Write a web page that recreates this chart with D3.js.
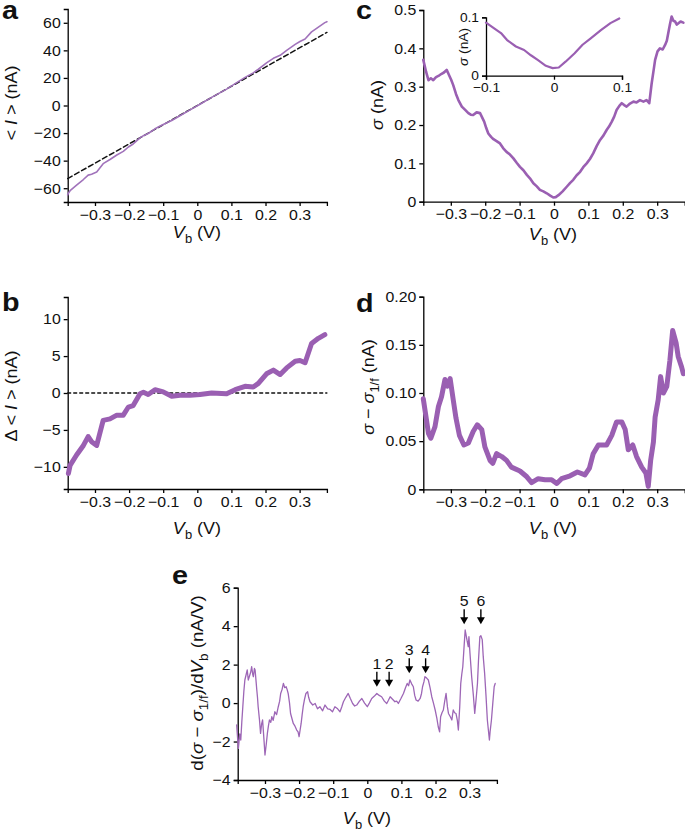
<!DOCTYPE html>
<html><head><meta charset="utf-8">
<script src="https://cdn.jsdelivr.net/npm/d3@7"></script>
<style>body{margin:0;background:#fff}svg{display:block}</style>
</head><body>
<svg id="fig" width="685" height="837"></svg>
<script>
// ---------- data ----------
const xTicks = [-0.3,-0.2,-0.1,0,0.1,0.2,0.3];
const xTickLabels = ["\u22120.3","\u22120.2","\u22120.1","0","0.1","0.2","0.3"];

// panel a: mean current <I> (nA) vs Vb (V), and linear fit (dashed)
const aV = [-0.38,-0.378,-0.373,-0.354,-0.334,-0.320,-0.310,-0.295,-0.276,-0.256,-0.236,-0.217,-0.202,-0.188,-0.168,-0.158,-0.144,-0.124,-0.100,-0.075,-0.051,-0.021,0.008,0.042,0.086,0.111,0.140,0.164,0.179,0.203,0.223,0.243,0.262,0.287,0.301,0.316,0.335,0.355,0.374,0.38];
const aI = [-64.8,-63.6,-61.8,-57.8,-53.7,-50.5,-49.8,-48.3,-42.2,-39.2,-35.9,-33.3,-30.1,-27.9,-23.5,-21.9,-20.3,-16.9,-13.8,-10.9,-7.4,-3.2,0.9,5.9,11.9,15.9,20.4,23.7,26.3,30.9,34.2,36.4,40.0,44.3,46.4,48.2,53.4,56.9,60.1,60.8];
const aFitV = [-0.38, 0.38];
const aFitI = [-53, 53];
const aYTicks = [-60,-40,-20,0,20,40,60];

// panel b: deviation from linear fit (nA)
const bV = [-0.378,-0.373,-0.354,-0.334,-0.320,-0.310,-0.295,-0.276,-0.256,-0.236,-0.217,-0.202,-0.188,-0.168,-0.158,-0.144,-0.124,-0.100,-0.075,-0.051,-0.021,0.008,0.042,0.086,0.111,0.140,0.164,0.179,0.203,0.223,0.243,0.262,0.287,0.301,0.316,0.335,0.355,0.374];
const bD = [-10.9,-9.8,-8.4,-7.1,-5.9,-6.6,-7.1,-3.7,-3.5,-3.0,-3.0,-1.9,-1.7,-0.1,0.1,-0.2,0.45,0.15,-0.45,-0.3,-0.3,-0.2,0,-0.1,0.45,0.9,0.8,1.3,2.6,3.1,2.5,3.4,4.3,4.4,4.1,6.7,7.4,7.9];
const bYTicks = [-10,-5,0,5,10];

// panel c: sigma (nA)
const cV = [-0.380,-0.372,-0.365,-0.358,-0.351,-0.343,-0.336,-0.328,-0.320,-0.312,-0.305,-0.299,-0.293,-0.285,-0.278,-0.268,-0.259,-0.249,-0.242,-0.235,-0.225,-0.215,-0.203,-0.197,-0.191,-0.183,-0.176,-0.167,-0.157,-0.148,-0.138,-0.128,-0.118,-0.108,-0.099,-0.089,-0.079,-0.070,-0.060,-0.050,-0.041,-0.031,-0.021,-0.011,-0.002,0.005,0.013,0.025,0.037,0.047,0.056,0.066,0.076,0.085,0.095,0.105,0.114,0.124,0.134,0.144,0.153,0.160,0.168,0.175,0.182,0.190,0.197,0.204,0.211,0.221,0.231,0.240,0.250,0.260,0.269,0.277,0.284,0.290,0.294,0.301,0.308,0.316,0.323,0.328,0.332,0.337,0.342,0.347,0.352,0.357,0.361,0.368,0.376];
const cS = [0.370,0.339,0.317,0.322,0.317,0.325,0.328,0.333,0.337,0.344,0.330,0.318,0.304,0.281,0.265,0.248,0.240,0.231,0.227,0.226,0.233,0.231,0.209,0.192,0.178,0.169,0.163,0.158,0.152,0.140,0.130,0.123,0.113,0.101,0.091,0.082,0.070,0.061,0.048,0.040,0.031,0.027,0.022,0.016,0.011,0.012,0.017,0.027,0.039,0.049,0.057,0.069,0.078,0.090,0.100,0.112,0.126,0.145,0.161,0.173,0.187,0.196,0.209,0.222,0.239,0.250,0.257,0.252,0.248,0.256,0.261,0.259,0.265,0.261,0.265,0.257,0.309,0.345,0.370,0.392,0.400,0.397,0.409,0.420,0.439,0.462,0.483,0.472,0.470,0.462,0.465,0.470,0.467];
const cYTicks = [0,0.1,0.2,0.3,0.4,0.5];

// inset of c
const insV = [-0.100,-0.088,-0.078,-0.069,-0.056,-0.044,-0.034,-0.024,-0.012,-0.002,0.007,0.017,0.030,0.042,0.054,0.069,0.083,0.096];
const insS = [0.091,0.081,0.073,0.061,0.050,0.044,0.035,0.027,0.017,0.013,0.014,0.024,0.038,0.053,0.064,0.078,0.090,0.098];
const insXTicks = [-0.1,0,0.1];
const insXTickLabels = ["\u22120.1","0","0.1"];
const insYTicks = [0,0.1];

// panel d: sigma - sigma_1/f (nA)
const dV = [-0.380,-0.372,-0.365,-0.358,-0.346,-0.336,-0.327,-0.317,-0.310,-0.302,-0.293,-0.285,-0.275,-0.262,-0.249,-0.235,-0.223,-0.210,-0.201,-0.186,-0.178,-0.167,-0.152,-0.138,-0.124,-0.099,-0.079,-0.065,-0.046,-0.026,-0.007,0.008,0.022,0.047,0.068,0.090,0.103,0.114,0.129,0.153,0.168,0.182,0.197,0.207,0.216,0.229,0.240,0.255,0.267,0.274,0.281,0.289,0.294,0.303,0.310,0.318,0.328,0.337,0.345,0.355,0.361,0.371,0.376];
const dS = [0.094,0.075,0.058,0.053,0.065,0.086,0.096,0.114,0.107,0.115,0.093,0.074,0.056,0.046,0.048,0.060,0.067,0.062,0.044,0.030,0.027,0.037,0.034,0.030,0.023,0.019,0.013,0.007,0.011,0.010,0.010,0.006,0.011,0.014,0.018,0.015,0.022,0.037,0.046,0.046,0.056,0.070,0.070,0.062,0.041,0.046,0.034,0.023,0.017,0.003,0.030,0.049,0.075,0.093,0.117,0.100,0.107,0.134,0.165,0.152,0.138,0.127,0.120];
const dYTicks = [0,0.05,0.10,0.15,0.20];
const dYTickLabels = ["0","0.05","0.10","0.15","0.20"];

// panel e: d(sigma - sigma_1/f)/dVb (nA/V)
const eV = [-0.383,-0.380,-0.378,-0.374,-0.371,-0.368,-0.365,-0.362,-0.359,-0.355,-0.352,-0.349,-0.346,-0.342,-0.339,-0.336,-0.334,-0.331,-0.329,-0.326,-0.324,-0.322,-0.320,-0.316,-0.313,-0.310,-0.307,-0.303,-0.300,-0.296,-0.293,-0.290,-0.287,-0.283,-0.280,-0.276,-0.271,-0.266,-0.261,-0.257,-0.254,-0.250,-0.246,-0.242,-0.238,-0.235,-0.232,-0.228,-0.225,-0.221,-0.217,-0.212,-0.207,-0.203,-0.200,-0.197,-0.194,-0.191,-0.188,-0.184,-0.180,-0.175,-0.172,-0.168,-0.160,-0.153,-0.146,-0.139,-0.131,-0.124,-0.116,-0.109,-0.102,-0.095,-0.087,-0.080,-0.075,-0.070,-0.063,-0.056,-0.050,-0.043,-0.037,-0.031,-0.023,-0.016,-0.008,0.000,0.006,0.013,0.020,0.028,0.035,0.042,0.050,0.057,0.062,0.067,0.074,0.081,0.086,0.091,0.099,0.106,0.112,0.117,0.121,0.125,0.130,0.135,0.139,0.143,0.149,0.155,0.159,0.162,0.166,0.169,0.174,0.179,0.184,0.189,0.194,0.199,0.204,0.208,0.212,0.215,0.219,0.223,0.227,0.231,0.235,0.238,0.243,0.248,0.250,0.252,0.256,0.260,0.264,0.267,0.271,0.274,0.277,0.280,0.284,0.287,0.292,0.296,0.298,0.301,0.306,0.311,0.315,0.319,0.323,0.326,0.330,0.333,0.337,0.340,0.344,0.348,0.352,0.355,0.358,0.360,0.364,0.368,0.372,0.375,0.379];
const eD = [-1.14,-1.9,-2.36,-1.6,-1.92,-1.0,-0.19,0.6,1.2,1.5,1.72,1.2,1.37,1.6,1.89,1.5,1.37,1.8,1.72,1.1,0.68,0.3,-0.19,-0.9,-1.58,-1.1,-0.88,-1.9,-2.7,-2.1,-1.58,-1.2,-0.88,-1.0,-0.71,-0.9,-0.45,-0.6,-0.19,0.1,0.5,0.7,1.02,0.8,0.85,0.7,0.5,0.0,-0.54,-0.8,-1.06,-1.2,-1.4,-1.5,-1.75,-1.4,-1.06,-0.6,-0.19,0.2,0.5,0.59,0.3,0.07,-0.1,-0.02,-0.3,-0.19,-0.4,-0.1,-0.3,-0.33,-0.45,-0.19,-0.3,-0.45,-0.2,0.07,0.3,0.5,0.25,-0.02,-0.15,-0.1,0.1,0.24,0.0,-0.19,0.0,0.24,0.35,0.5,0.4,0.33,0.1,-0.02,0.15,0.33,0.2,0.07,0.1,-0.02,0.25,0.5,0.8,1.02,0.9,1.2,1.0,0.85,0.4,0.16,0.1,0.24,0.5,0.85,1.1,1.37,1.3,1.2,0.8,0.33,0.0,-0.36,-0.8,-1.23,-1.5,-0.71,-0.5,-0.36,0.1,0.5,-0.2,-0.54,-0.7,-0.88,-0.6,-0.36,-0.5,-0.54,-0.9,-1.4,-0.2,1.02,1.5,1.89,3.0,3.8,3.3,2.93,3.45,2.6,1.37,0.4,-0.54,0.2,1.02,2.2,3.45,3.5,3.3,2.4,1.55,0.4,-0.88,-1.4,-1.92,-1.5,-0.88,0.0,0.85,1.02];
const eYTicks = [-4,-2,0,2,4,6];
const arrowV = [0.028,0.064,0.123,0.171,0.284,0.333];
const arrowTip = [0.85,0.85,1.55,1.55,4.1,4.1];
const arrowLabels = ["1","2","3","4","5","6"];

// ---------- drawing ----------
const FONT = "'Liberation Sans', Arial, Helvetica, sans-serif";
const S = 1.06;            // slight horizontal glyph stretch seen in the reference
const PURPLE = "#9a5fb2";
const svg = d3.select("#fig");
const minus = s => String(s).replace("-", "\u2212");

function styleAxis(g, isY, fs) {
  g.attr("font-family", FONT).attr("font-size", fs);
  g.select(".domain").attr("stroke", "#000").attr("stroke-width", 1.3);
  g.selectAll(".tick line").attr("stroke", "#000").attr("stroke-width", 1.3);
  g.selectAll(".tick text").attr("fill", "#111").attr("transform", `scale(${S},1)`);
  if (isY) g.selectAll(".tick text").attr("x", -7 / S);
}

function panel(box, yDom, yTicks, yLabels, xT = xTicks, xL = xTickLabels, fs = 15) {
  const x = d3.scaleLinear().domain(box.xd || [-0.38, 0.38]).range([box.l, box.r]);
  const y = d3.scaleLinear().domain(yDom).range([box.b, box.t]);
  svg.append("g").attr("transform", `translate(0,${box.b})`)
    .call(d3.axisBottom(x).tickValues(xT).tickFormat((d, i) => xL[i]).tickSizeOuter(0).tickSize(4).tickPadding(3))
    .call(g => styleAxis(g, false, fs));
  svg.append("g").attr("transform", `translate(${box.l},0)`)
    .call(d3.axisLeft(y).tickValues(yTicks).tickFormat((d, i) => yLabels ? yLabels[i] : minus(d)).tickSizeOuter(0).tickSize(4).tickPadding(3))
    .call(g => styleAxis(g, true, fs));
  return { x, y };
}

function drawLine(sc, xs, ys, color, w, dash) {
  const line = d3.line().x(d => sc.x(d[0])).y(d => sc.y(d[1]));
  svg.append("path").datum(d3.zip(xs, ys)).attr("d", line)
    .attr("fill", "none").attr("stroke", color).attr("stroke-width", w)
    .attr("stroke-linejoin", "round").attr("stroke-linecap", "round")
    .attr("stroke-dasharray", dash || null);
}

// parts: [text, opts] opts: i (italic), sub
function label(x, y, rot, size, parts, anchor = "middle", weight = "normal", sx = S) {
  const t = svg.append("text")
    .attr("transform", `translate(${x},${y}) rotate(${rot}) scale(${sx},1)`)
    .attr("font-family", FONT).attr("font-size", size).attr("font-weight", weight)
    .attr("text-anchor", anchor).attr("fill", "#111");
  let shifted = 0;
  parts.forEach(([txt, o = {}]) => {
    const ts = t.append("tspan").text(txt);
    if (o.i) ts.attr("font-style", "italic");
    const want = o.sub ? size * 0.3 : 0;
    if (want !== shifted) { ts.attr("dy", want - shifted); shifted = want; }
    if (o.sub) ts.attr("font-size", size * 0.72);
  });
  return t;
}

const vbLabel = [["V", { i: true }], ["b", { sub: true }], [" (V)"]];

// ---- panel a ----
const pa = panel({ l: 67.7, r: 326.9, t: 9, b: 202 }, [-70, 70], aYTicks);
drawLine(pa, aFitV, aFitI, "#111", 1.5, "5,3");
drawLine(pa, aV, aI, "#a173bb", 1.6);
label(197, 238, 0, 17, vbLabel);
label(17, 103, -90, 17, [["< "], ["I", { i: true }], [" > (nA)"]]);
label(2, 19, 0, 25, [["a"]], "start", "bold", 1.15);

// ---- panel b ----
const pb = panel({ l: 67.7, r: 326.9, t: 297, b: 489 }, [-13, 13], bYTicks);
drawLine(pb, [-0.38, 0.38], [0, 0], "#111", 1.3, "3,3");
drawLine(pb, bV, bD, PURPLE, 5);
label(197, 534, 0, 17, vbLabel);
label(17, 396, -90, 17, [["\u0394 < "], ["I", { i: true }], [" > (nA)"]]);
label(2, 311, 0, 25, [["b"]], "start", "bold", 1.15);

// ---- panel c ----
const pc = panel({ l: 423.3, r: 684.7, t: 10, b: 201.7 }, [0, 0.5], cYTicks);
drawLine(pc, cV, cS, PURPLE, 2.6);
label(553, 240, 0, 17, vbLabel);
label(383, 105, -90, 17, [["\u03c3", { i: true }], [" (nA)"]]);
label(356, 19, 0, 25, [["c"]], "start", "bold", 1.15);

// inset
const pin = panel({ l: 486, r: 622, t: 17.3, b: 75.7, xd: [-0.1, 0.1] }, [0, 0.1], insYTicks, null, insXTicks, insXTickLabels, 13);
drawLine(pin, insV, insS, PURPLE, 2.2);
label(468, 47, -90, 13, [["\u03c3", { i: true }], [" (nA)"]]);

// ---- panel d ----
const pd = panel({ l: 423.3, r: 684.7, t: 296.7, b: 489.3 }, [0, 0.2], dYTicks, dYTickLabels);
drawLine(pd, dV, dS, PURPLE, 5);
label(553, 534, 0, 17, vbLabel);
label(374, 387, -90, 17, [["\u03c3", { i: true }], [" \u2212 "], ["\u03c3", { i: true }], ["1/f", { sub: true }], [" (nA)"]]);
label(356, 312, 0, 25, [["d"]], "start", "bold", 1.15);

// ---- panel e ----
const pe = panel({ l: 237.7, r: 496.9, t: 587.7, b: 780 }, [-4, 6], eYTicks);
drawLine(pe, eV, eD, "#9d66b6", 1.3);
label(367, 824, 0, 17, vbLabel);
label(203, 683, -90, 17, [["d("], ["\u03c3", { i: true }], [" \u2212 "], ["\u03c3", { i: true }], ["1/f", { sub: true }], [")/d"], ["V", { i: true }], ["b", { sub: true }], [" (nA/V)"]], "middle", "normal", 1.1);
label(172, 584, 0, 25, [["e"]], "start", "bold", 1.15);

// arrows
arrowV.forEach((v, i) => {
  const tx = pe.x(v), ty = pe.y(arrowTip[i]);
  svg.append("line").attr("x1", tx).attr("x2", tx).attr("y1", ty - 15).attr("y2", ty - 5)
    .attr("stroke", "#000").attr("stroke-width", 1.4);
  svg.append("path").attr("d", `M${tx - 4},${ty - 7}L${tx + 4},${ty - 7}L${tx},${ty}Z`).attr("fill", "#000");
  label(tx, ty - 18, 0, 15, [[arrowLabels[i]]]);
});
</script>
</body></html>
